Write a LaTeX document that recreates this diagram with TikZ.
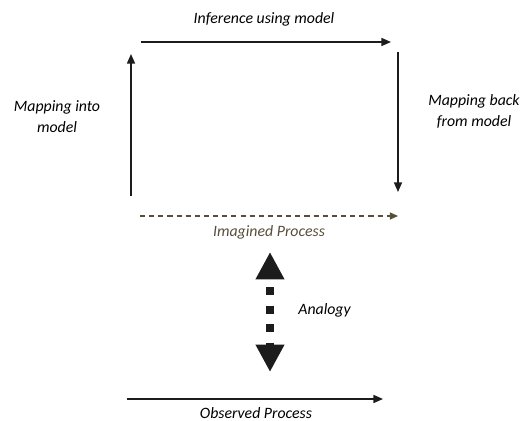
\documentclass[tikz,border=0pt]{standalone}
\usepackage{fontspec}
\setmainfont{Carlito}
\usetikzlibrary{arrows.meta}
\definecolor{inkgray}{RGB}{28,28,28}
\definecolor{imagined}{RGB}{88,78,60}

\begin{document}
\begin{tikzpicture}[x=0.02cm,y=-0.02cm,
    label/.style={font=\fontsize{9}{12}\selectfont\itshape,inner sep=0pt,align=center},
    flow/.style={draw=inkgray,line width=0.8pt,-{Triangle[length=5.5pt,width=4.6pt]}},
    analogy/.style={draw=inkgray,line width=4.5pt,dash pattern=on 4.6pt off 5.9pt,dash phase=5.1pt,
      {Triangle[length=15.6pt,width=15.4pt]}-{Triangle[length=15.6pt,width=15.4pt]}}]
  \useasboundingbox (0,0) rectangle (524,421);
  % MODEL SIDE
  \coordinate (mapinA) at (131,196);
  \coordinate (mapinB) at (131,54);
  \coordinate (infA) at (141,42);
  \coordinate (infB) at (391,42);
  \coordinate (mapbackA) at (398,52);
  \coordinate (mapbackB) at (398,192);
  \draw[flow] (mapinA) -- (mapinB);
  \draw[flow] (infA) -- (infB);
  \draw[flow] (mapbackA) -- (mapbackB);
  \node[label,anchor=base] (inflabel) at (264,24) {Inference using model};
  \node[label,anchor=base] (mapinlabel) at (57,133) {Mapping into\\model};
  \node[label,anchor=base] (mapbacklabel) at (474,127) {Mapping back\\from model};
  % IMAGINED PROCESS
  \coordinate (imA) at (140,216);
  \coordinate (imB) at (398,216);
  \draw[draw=imagined,line width=0.6pt,dash pattern=on 2.9pt off 2.3pt,
    -{Triangle[length=4.6pt,width=4pt]}] (imA) -- (imB);
  \node[label,anchor=base,text=imagined] (imlabel) at (269,237) {Imagined Process};
  % ANALOGY
  \coordinate (anTop) at (270,252);
  \coordinate (anBot) at (270,372);
  \draw[analogy] (anTop) -- (anBot);
  \node[label,anchor=base west] (anlabel) at (298,315) {Analogy};
  % OBSERVED PROCESS
  \coordinate (obA) at (127,399);
  \coordinate (obB) at (383,399);
  \draw[flow] (obA) -- (obB);
  \node[label,anchor=base] (oblabel) at (256,419) {Observed Process};
\end{tikzpicture}
\end{document}
